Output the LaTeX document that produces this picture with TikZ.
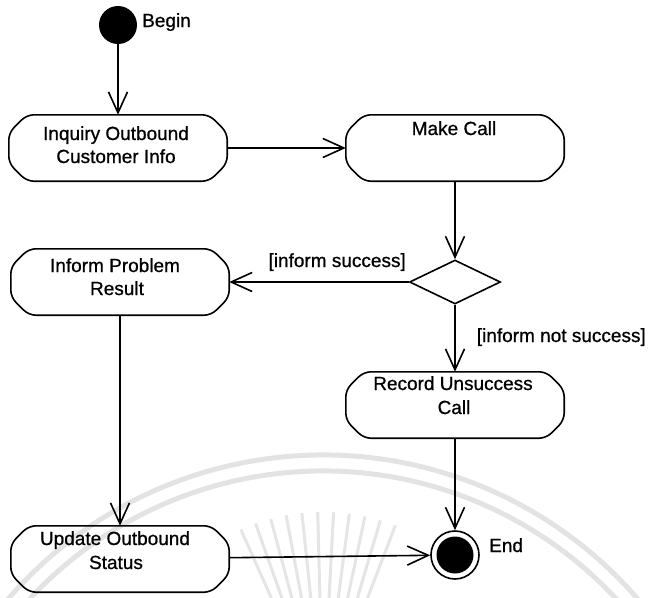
\documentclass[tikz,border=0pt]{standalone}
\usepackage{fontspec}
\setmainfont{Liberation Sans}
\usetikzlibrary{arrows.meta,shapes.geometric}

\tikzset{
  flow/.style={draw, line width=1.6pt,
    -{Straight Barb[length=21pt,width=19pt,line width=1.6pt]}},
  actbox/.style={rectangle, minimum width=218pt, minimum height=66pt, inner sep=0pt},
  outline/.style={line width=1.6pt, rounded corners=7pt},
  txt/.style={font=\fontsize{19}{23}\selectfont\addfontfeatures{FakeBold=0.8},
    inner sep=0pt, anchor=base},
  wm/.style={line width=5pt, gray!22},
  wmray/.style={line width=3pt, gray!20},
}

% outline of an action box: chamfered rectangle around the named node
\newcommand\actoutline[1]{%
  \draw[outline] ([xshift=18pt]#1.north west) -- ([xshift=-18pt]#1.north east)
    -- ([yshift=-18pt]#1.north east) -- ([yshift=18pt]#1.south east)
    -- ([xshift=-18pt]#1.south east) -- ([xshift=18pt]#1.south west)
    -- ([yshift=18pt]#1.south west) -- ([yshift=-18pt]#1.north west) -- cycle;}

\begin{document}
\begin{tikzpicture}[x=1pt,y=-1pt]
  \useasboundingbox (0,0) rectangle (649,598);
  \clip (0,0) rectangle (649,598);

  % faint seal in the background
  \draw[wm] (323,871) ++(210:416) arc[start angle=210, end angle=330, radius=416];
  \draw[wm] (323,871) ++(208:400) arc[start angle=208, end angle=332, radius=400];
  \foreach \a in {246,250.5,...,294}
    \draw[wmray] (323,714) ++(\a:110) -- ++(\a:92);

  % nodes
  \node[circle, fill=black, minimum size=38pt, inner sep=0pt] (start) at (118,25) {};
  \node[txt, anchor=base west] (beginT) at (142,27) {Begin};

  \node[actbox] (inq) at (118,148) {};
  \node[txt] (inqA) at (116,140) {Inquiry Outbound};
  \node[txt] (inqB) at (116,163) {Customer Info};

  \node[actbox] (mc) at (455,148) {};
  \node[txt] (mcA) at (454,135) {Make Call};

  \node[diamond, draw, line width=1.6pt, minimum width=91pt, minimum height=44pt,
        inner sep=0pt] (dec) at (455,282) {};

  \node[actbox] (inf) at (120,282) {};
  \node[txt] (infA) at (115,272) {Inform Problem};
  \node[txt] (infB) at (117,295) {Result};

  \node[actbox] (rec) at (455,405) {};
  \node[txt] (recA) at (453,390) {Record Unsuccess};
  \node[txt] (recB) at (454,414) {Call};

  \node[actbox] (upd) at (120,559) {};
  \node[txt] (updA) at (115,545) {Update Outbound};
  \node[txt] (updB) at (116,569) {Status};

  \node[circle, draw, line width=1.6pt, minimum size=48pt, inner sep=0pt] (end) at (455,555) {};
  \fill (end.center) circle[radius=18.5pt];
  \node[txt, anchor=base west] (endT) at (489,552) {End};

  % guard labels
  \node[txt, anchor=base east] (gS) at (406,267) {[inform success]};
  \node[txt, anchor=base east] (gN) at (646,342) {[inform not success]};

  % box outlines
  \actoutline{inq}
  \actoutline{mc}
  \actoutline{inf}
  \actoutline{rec}
  \actoutline{upd}

  % flows
  \draw[flow] (start) -- (inq);
  \draw[flow] (inq) -- (mc);
  \draw[flow] (mc) -- (dec);
  \draw[flow] (dec) -- (inf);
  \draw[flow] (dec) -- (rec);
  \draw[flow] (inf) -- (upd);
  \draw[flow] (rec) -- (end);
  \draw[flow] (upd) -- (end);
\end{tikzpicture}
\end{document}
